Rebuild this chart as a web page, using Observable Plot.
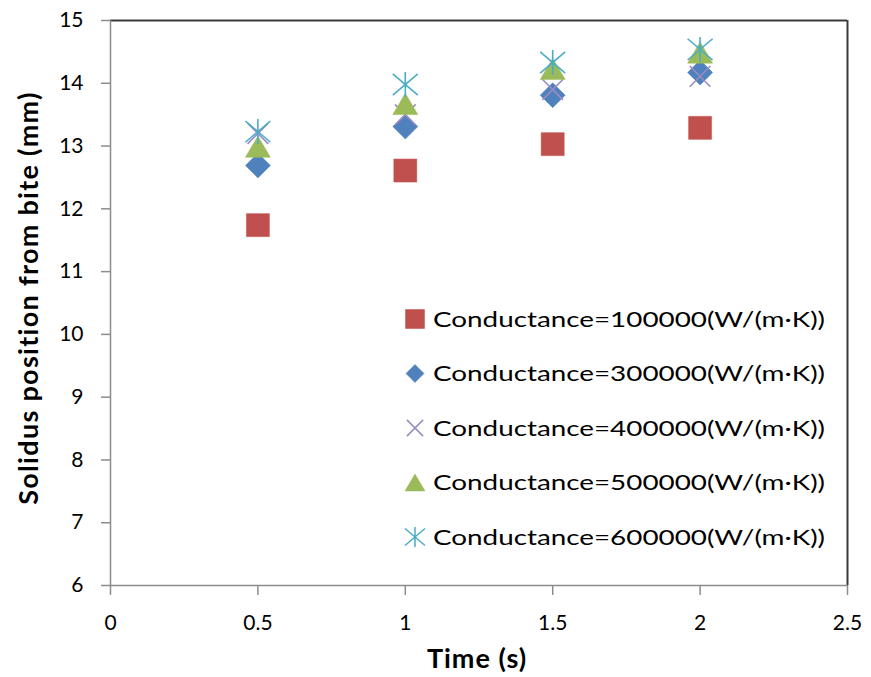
<!DOCTYPE html>
<html><head><meta charset="utf-8">
<script src="https://cdn.jsdelivr.net/npm/d3@7"></script>
<script src="https://cdn.jsdelivr.net/npm/@observablehq/plot@0.6"></script>
<style>
body{margin:0;background:#fff;}
#wrap{position:relative;width:871px;height:677px;font-family:Lato,"Open Sans",sans-serif;color:#000;}
#wrap svg.plot{position:absolute;left:0;top:0;}
.ttl{position:absolute;font-weight:bold;white-space:nowrap;line-height:1;}
#xt{left:477px;top:657px;font-size:27px;letter-spacing:1px;transform:translate(-50%,-50%);}
#yt{left:27px;top:298px;font-size:27px;letter-spacing:1.3px;transform:translate(-50%,-50%) rotate(-90deg);}
#legend{position:absolute;left:0;top:0;}
</style></head><body><div id="wrap"></div>
<script>
// ---- data ----
const times = [0.5, 1, 1.5, 2];
const seriesNames = [
  "Conductance=100000(W/(m·K))",
  "Conductance=300000(W/(m·K))",
  "Conductance=400000(W/(m·K))",
  "Conductance=500000(W/(m·K))",
  "Conductance=600000(W/(m·K))"
];
const c100000 = [11.74, 12.61, 13.03, 13.29];
const c300000 = [12.69, 13.31, 13.81, 14.17];
const c400000 = [13.20, 13.50, 13.90, 14.11];
const c500000 = [12.99, 13.67, 14.23, 14.49];
const c600000 = [13.23, 13.98, 14.33, 14.54];
const xTicks = [0, 0.5, 1, 1.5, 2, 2.5];
const yTicks = [6, 7, 8, 9, 10, 11, 12, 13, 14, 15];
const xTitle = "Time (s)";
const yTitle = "Solidus position from bite (mm)";

// ---- styling ----
const colors = ["#C0504D", "#4F81BD", "#9B8BC4", "#9BBB59", "#4BACC6"];
const filled = [true, true, false, true, false];
const mk = f => ({draw(ctx, size) { f(ctx, Math.sqrt(size / Math.PI)); }});
const symSquare = mk((c, r) => { c.rect(-r, -r, 2 * r, 2 * r); });
const symDiamond = mk((c, r) => { c.moveTo(0, -r); c.lineTo(r, 0); c.lineTo(0, r); c.lineTo(-r, 0); c.closePath(); });
const symTriangle = mk((c, r) => { c.moveTo(0, -r * 0.85); c.lineTo(r, r * 0.85); c.lineTo(-r, r * 0.85); c.closePath(); });
const symTimes = mk((c, r) => { const a = r * 0.9; c.moveTo(-a, -a); c.lineTo(a, a); c.moveTo(-a, a); c.lineTo(a, -a); });
const symStar = mk((c, r) => { c.moveTo(0, -r); c.lineTo(0, r); c.moveTo(-r, -r * 0.85); c.lineTo(r, r * 0.85); c.moveTo(-r, r * 0.85); c.lineTo(r, -r * 0.85); });
const symbols = [symSquare, symDiamond, symTimes, symTriangle, symStar];
const radii = [11.5, 12.5, 11.5, 12.5, 12.5];

const values = [c100000, c300000, c400000, c500000, c600000];
const series = values.map((vals, i) => times.map((t, j) => ({t, v: vals[j], s: seriesNames[i]})));

const marks = [
  Plot.ruleY([15], {stroke: "#3a3a3a", strokeWidth: 2}),
  Plot.ruleX([2.5], {stroke: "#3a3a3a", strokeWidth: 2}),
  Plot.ruleX([0], {stroke: "#8c8c8c", strokeWidth: 1.5}),
  Plot.ruleY([6], {stroke: "#8c8c8c", strokeWidth: 1.5}),
  Plot.axisX({ticks: xTicks, tickSize: 10, tickPadding: 20, fontSize: 21, stroke: "#8c8c8c", strokeWidth: 1.5, fill: "#000", label: null, tickFormat: d => String(d)}),
  Plot.axisY({ticks: yTicks, tickSize: 9, tickPadding: 18, fontSize: 21, stroke: "#8c8c8c", strokeWidth: 1.5, fill: "#000", label: null, tickFormat: d => String(d)})
];
series.forEach((data, i) => {
  marks.push(Plot.dot(data, {
    x: "t", y: "v", r: radii[i], symbol: symbols[i],
    fill: filled[i] ? colors[i] : "none",
    stroke: colors[i], strokeWidth: filled[i] ? 0.5 : 1.6
  }));
});

const chart = Plot.plot({
  width: 871, height: 677,
  marginLeft: 110, marginRight: 24, marginTop: 20, marginBottom: 92,
  style: {fontFamily: "Lato, 'Open Sans', sans-serif", background: "#fff", color: "#000", overflow: "visible"},
  x: {domain: [0, 2.5]},
  y: {domain: [6, 15]},
  marks
});
const wrap = document.getElementById("wrap");
chart.classList.add("plot");
wrap.appendChild(chart);

const xt = document.createElement("div"); xt.className = "ttl"; xt.id = "xt"; xt.textContent = xTitle; wrap.appendChild(xt);
const yt = document.createElement("div"); yt.className = "ttl"; yt.id = "yt"; yt.textContent = yTitle; wrap.appendChild(yt);

// legend (overlay as its own small svg)
const lg = d3.select(wrap).append("svg").attr("id", "legend").attr("width", 871).attr("height", 677);
const rowY0 = 319, rowStep = 54.5;
seriesNames.forEach((name, i) => {
  const g = lg.append("g").attr("transform", `translate(415,${rowY0 + i * rowStep})`);
  const r = [9.5, 9, 9, 10, 10][i];
  const p = d3.path();
  symbols[i].draw(p, r * r * Math.PI);
  g.append("path").attr("d", p.toString())
    .attr("fill", filled[i] ? colors[i] : "none")
    .attr("stroke", colors[i]).attr("stroke-width", filled[i] ? 0.5 : 1.5);
  g.append("text").attr("x", 18).attr("y", 0).attr("dy", "0.36em")
    .attr("font-family", "Lato, 'Open Sans', sans-serif").attr("font-size", 22)
    .attr("textLength", 392).attr("lengthAdjust", "spacingAndGlyphs")
    .text(name);
});
</script></body></html>
